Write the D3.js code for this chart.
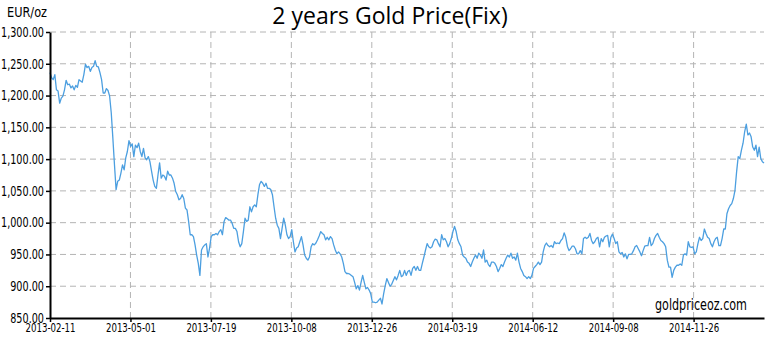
<!DOCTYPE html>
<html>
<head>
<meta charset="utf-8">
<script src="https://cdn.jsdelivr.net/npm/d3@7"></script>
<style>
  html, body { margin: 0; padding: 0; background: #fff; }
  svg { display: block; }
  .tick-label { font-family: 'DejaVu Sans Condensed', 'DejaVu Sans', sans-serif; font-stretch: condensed; fill: #000; }
  .title { font-family: 'Open Sans', sans-serif; fill: #000; }
  .grid line { stroke: #b4b4b4; stroke-width: 1; stroke-dasharray: 6 4; }
</style>
</head>
<body>
<svg id="chart" width="777" height="338"></svg>
<script>
// price series (EUR/oz), one value per step from 2013-02-11 on
const pricesA = [1236,1228,1225,1233,1209,1207,1188,1196,1199,1209,1224,1217,1218,1212,1215,1209,1216,1213,1225,1223,1221,1233,1249,1244,1246,1238,1244,1246,1255,1246,1245,1236,1225,1204,1204,1211,1208,1199,1173,1133,1091,1052,1065,1067,1078,1091,1083,1102,1112,1129,1120,1124,1104,1122,1118,1125,1112,1104,1117,1102,1099,1104,1096,1081,1067,1057,1054,1075,1094,1070,1075,1073,1067,1081,1075,1075,1070,1062,1049,1044,1036,1038,1044,1038,1023,1020,1002,981,981,978,965,949,936,917,957,962,965,967,946,960,978,981,981,983,981,986,989,981,1002,1008,1006,1004,1004,999,991,991,986,970,962,967,986,1007,1002,1004,1025,1017,1025,1028,1025,1044,1060,1065,1062,1057,1062,1054,1054,1052,1044,1025,1007,996,991,975,991,1007,996,981,975,978,989,970,954,960,962,970,978,965,949];
const pricesB = [944,941,946,962,967,965,968,973,979,986,983,981,973,977,973,978,975,965,957,951,954,951,946,936,923,920,920,919,917,915,906,896,901,894,906,917,906,896,898,894,888,875,875,874,875,878,881,872,888,901,912,906,900,903,909,915,910,917,925,915,917,925,917,923,925,917,928,931,925,931,925,925,936,946,957,967,962,960,962,970,974,973,967,962,981,973,975,970,962,967,975,986,994,986,973,967,962,949,946,944,938,936,931,938,944,949,944,952,949,944,957,938,941,934,931,938,938,936,931,923,928,934,931,938,944,949,946,952,944,946,941,952,938,928,923,917,915,912,915,912,917,928,931,934,938,934,938,954];
const pricesC = [964,968,964,962,964,961,970,967,968,967,972,975,984,977,963,956,959,963,963,959,951,951,956,951,975,977,975,977,983,972,967,970,975,977,962,975,970,977,979,980,962,977,982,975,967,970,954,951,953,946,951,943,950,950,951,956,962,964,959,954,948,956,963,964,964,977,964,967,975,980,983,977,972,970,967,962,941,930,930,914,925,930,933,933,935,933,949,951,949,970,962,961,962,951,954,967,977,972,975,990,983,977,975,967,962,970,975,977,964,964,975,990,990,1014,1022,1027,1030,1038,1051,1080,1104,1101,1114,1125,1143,1155,1138,1141,1135,1119,1114,1122,1104,1119,1101,1096,1094];

const xTickLabels = ['2013-02-11','2013-05-01','2013-07-19','2013-10-08','2013-12-26','2014-03-19','2014-06-12','2014-09-08','2014-11-26'];
const yTicks = [850,900,950,1000,1050,1100,1150,1200,1250,1300];
const tickEvery = 56;   // trading days between x labels
const lastDay = 497;    // trading days in the window

const prices = pricesA.concat(pricesB, pricesC);
const data = prices.map((v, i) => ({ day: i * lastDay / (prices.length - 1), v }));

const margin = { top: 32, right: 13, bottom: 20, left: 50 };
const W = 777, H = 338;
const svg = d3.select('#chart');

const x = d3.scaleLinear().domain([0, lastDay]).range([margin.left, W - margin.right]);
const y = d3.scaleLinear().domain([850, 1300]).range([H - margin.bottom, margin.top]);
const xTicks = xTickLabels.map((d, i) => i * tickEvery);

// squeeze a text to a narrow look like the original's condensed face
function squeeze(sel, k) {
  sel.each(function () {
    const w = this.getComputedTextLength();
    d3.select(this).attr('textLength', w * k).attr('lengthAdjust', 'spacingAndGlyphs');
  });
}

// grid
const grid = svg.append('g').attr('class', 'grid');
grid.selectAll('line.h').data(yTicks.slice(1)).enter().append('line')
  .attr('x1', x(0)).attr('x2', x(lastDay))
  .attr('y1', d => y(d)).attr('y2', d => y(d));
grid.selectAll('line.v').data(xTicks.slice(1)).enter().append('line')
  .attr('x1', d => x(d)).attr('x2', d => x(d))
  .attr('y1', y(1300)).attr('y2', y(850));

// line
svg.append('path').datum(data)
  .attr('fill', 'none')
  .attr('stroke', '#4c9fe0')
  .attr('stroke-width', 1.3)
  .attr('stroke-linejoin', 'round')
  .attr('d', d3.line().x(d => x(d.day)).y(d => y(d.v)));

// axes
const yAxis = svg.append('g')
  .attr('transform', `translate(${margin.left},0)`)
  .call(d3.axisLeft(y).tickValues(yTicks).tickFormat(d3.format(',.2f')).tickSize(4).tickSizeOuter(0));
const xAxis = svg.append('g')
  .attr('transform', `translate(0,${H - margin.bottom})`)
  .call(d3.axisBottom(x).tickValues(xTicks).tickFormat((d, i) => xTickLabels[i]).tickSize(4).tickSizeOuter(0));

[yAxis, xAxis].forEach(g => {
  g.select('.domain').attr('stroke', '#000').attr('stroke-width', 2);
  g.selectAll('.tick line').attr('stroke', '#000').attr('stroke-width', 1.5);
  g.selectAll('text').attr('class', 'tick-label').attr('font-size', 13.5);
});
yAxis.selectAll('text').attr('x', -6);
xAxis.selectAll('text').attr('y', 5).attr('font-size', 13);

// texts
svg.append('text').attr('class', 'title')
  .attr('x', 390).attr('y', 24).attr('text-anchor', 'middle')
  .attr('font-size', 23).text('2 years Gold Price(Fix)');
const unit = svg.append('text').attr('class', 'tick-label')
  .attr('x', 7).attr('y', 17).attr('font-size', 13.5).text('EUR/oz');
const site = svg.append('text').attr('class', 'tick-label')
  .attr('x', 747).attr('y', 310).attr('text-anchor', 'end')
  .attr('font-size', 15).text('goldpriceoz.com');

// fit widths to the reference's narrow lettering
const yl = yAxis.selectAll('text');
const yMax = d3.max(yl.nodes(), n => n.getComputedTextLength());
squeeze(yl, 43 / yMax);
const xl = xAxis.selectAll('text');
const xMax = d3.max(xl.nodes(), n => n.getComputedTextLength());
squeeze(xl, 50 / xMax);
squeeze(unit, 40 / unit.node().getComputedTextLength());
squeeze(site, 92 / site.node().getComputedTextLength());
</script>
</body>
</html>
